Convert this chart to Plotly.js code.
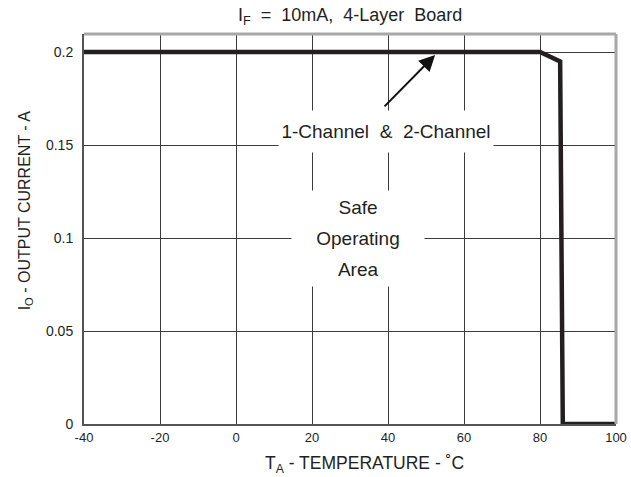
<!DOCTYPE html>
<html>
<head>
<meta charset="utf-8">
<script src="https://cdn.plot.ly/plotly-3.0.1.min.js"></script>
<style>html,body{margin:0;padding:0;background:#fff;}#chart{width:631px;height:477px;}</style>
</head>
<body>
<div id="chart"></div>
<script>
// Data
const tempC = [-40, 80, 85.3, 86, 100];
const currentA = [0.2, 0.2, 0.195, 0, 0];
const xTickVals = [-40, -20, 0, 20, 40, 60, 80, 100];
const xTickText = ['-40', '-20', '0', '20', '40', '60', '80', '100'];
const yTickVals = [0, 0.05, 0.1, 0.15, 0.2];
const yTickText = ['0', '0.05', '0.1', '0.15', '0.2'];
const arrowTail = [38.7, 0.170];
const arrowTip = [52.4, 0.1984];
const labelChannel = [39.5, 0.1575];
const labelSafe = [32.2, 0.0995];

const FONT = 'Liberation Sans, Arial, Helvetica, sans-serif';
const SPAN = '<span style="font-size:19px">';

const trace = {
  x: tempC, y: currentA, type: 'scatter', mode: 'lines',
  line: {color: '#231f20', width: 4.5}, hoverinfo: 'skip', cliponaxis: false
};

const layout = {
  width: 631, height: 477,
  margin: {l: 84, r: 15, t: 34, b: 53},
  paper_bgcolor: '#fff', plot_bgcolor: '#fff',
  showlegend: false,
  font: {family: FONT, color: '#231f20', size: 13},
  xaxis: {
    range: [-40, 100], tickvals: xTickVals, ticktext: xTickText,
    showgrid: true, gridcolor: '#3a3a3a', gridwidth: 1,
    zeroline: false, showline: true, linecolor: '#555', linewidth: 2,
    ticks: '', tickfont: {size: 13, family: FONT, color: '#231f20'}, fixedrange: true
  },
  yaxis: {
    range: [0, 0.2097], tickvals: yTickVals, ticktext: yTickText,
    showgrid: true, gridcolor: '#3a3a3a', gridwidth: 1,
    zeroline: false, showline: true, linecolor: '#555', linewidth: 2,
    ticks: '', ticklabelstandoff: 6, tickfont: {size: 14, family: FONT, color: '#231f20'}, fixedrange: true
  },
  shapes: [
    {type: 'line', xref: 'paper', yref: 'paper', x0: 0, x1: 1, y0: 1, y1: 1, line: {color: '#a8a8a8', width: 3}},
    {type: 'line', xref: 'paper', yref: 'paper', x0: 1, x1: 1, y0: 0, y1: 1, line: {color: '#a8a8a8', width: 3}}
  ],
  annotations: [
    {xref: 'paper', yref: 'paper', x: 0.5, y: 1.046, xanchor: 'center', yanchor: 'middle', showarrow: false,
     text: 'I<sub>F</sub>&nbsp;&nbsp;=&nbsp;&nbsp;10mA,&nbsp;&nbsp;4-Layer&nbsp;&nbsp;Board', font: {size: 18, family: FONT, color: '#231f20'}},
    {xref: 'paper', yref: 'paper', x: 0.528, y: -0.105, xanchor: 'center', yanchor: 'middle', showarrow: false,
     text: 'T<sub>A</sub> - TEMPERATURE - ˚C', font: {size: 17.5, family: FONT, color: '#231f20'}},
    {xref: 'paper', yref: 'paper', x: -0.11, y: 0.549, xanchor: 'center', yanchor: 'middle', showarrow: false, textangle: -90,
     text: 'I<sub>O</sub> - OUTPUT CURRENT - A', font: {size: 16, family: FONT, color: '#231f20'}},
    {xref: 'x', yref: 'y', axref: 'x', ayref: 'y', x: arrowTip[0], y: arrowTip[1], ax: arrowTail[0], ay: arrowTail[1],
     text: '', showarrow: true, arrowhead: 2, arrowsize: 1.6, arrowwidth: 2, arrowcolor: '#111'},
    {xref: 'x', yref: 'y', x: labelChannel[0], y: labelChannel[1], showarrow: false, xanchor: 'center', yanchor: 'middle',
     text: SPAN + '1-Channel&nbsp;&nbsp;&amp;&nbsp;&nbsp;2-Channel</span>', bgcolor: '#fff', borderpad: 3, width: 208, height: 35,
     font: {size: 24, family: FONT, color: '#231f20'}},
    {xref: 'x', yref: 'y', x: labelSafe[0], y: labelSafe[1], showarrow: false, xanchor: 'center', yanchor: 'middle',
     text: SPAN + 'Safe</span><br>' + SPAN + 'Operating</span><br>' + SPAN + 'Area</span>', bgcolor: '#fff', borderpad: 6, width: 120,
     font: {size: 24, family: FONT, color: '#231f20'}}
  ]
};

Plotly.newPlot('chart', [trace], layout, {staticPlot: true, displayModeBar: false});
</script>
</body>
</html>
